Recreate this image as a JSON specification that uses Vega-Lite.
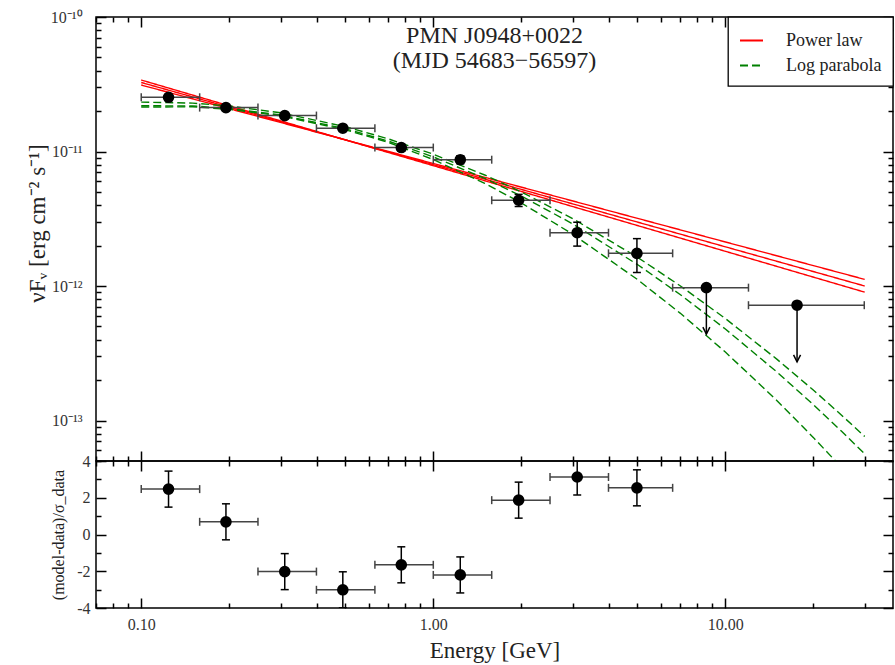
{
  "$schema": "https://vega.github.io/schema/vega-lite/v6.json",
  "background": "white",
  "padding": {"left": 25, "top": 8, "right": 2, "bottom": 0},
  "spacing": 0,
  "bounds": "flush",
  "config": {
    "view": {"stroke": "black", "strokeWidth": 1.5},
    "font": "Liberation Serif",
    "axis": {
      "domain": false, "tickColor": "black", "tickWidth": 1.5, "zindex": 2,
      "labelFont": "Liberation Serif", "labelFontSize": 16, "labelColor": "#333",
      "titleFont": "Liberation Serif", "titleFontWeight": "normal", "titleColor": "#222",
      "grid": false, "labelOverlap": false, "labelFlush": false
    },
    "legend": {
      "strokeColor": "black", "strokeWidth": 1.3, "fillColor": "white", "padding": 11, "cornerRadius": 0,
      "labelFont": "Liberation Serif", "labelFontSize": 18, "labelColor": "#222",
      "symbolSize": 529, "symbolStrokeWidth": 2, "symbolType": "stroke", "rowPadding": 3, "labelOffset": 22, "offset": 0
    }
  },
  "datasets": {
    "points": [
      {"E": 0.124, "Elo": 0.1, "Ehi": 0.1585, "F": 2.53e-11, "Flo": 2.42e-11, "Fhi": 2.64e-11},
      {"E": 0.195, "Elo": 0.1585, "Ehi": 0.251, "F": 2.12e-11, "Flo": 2.03e-11, "Fhi": 2.21e-11},
      {"E": 0.31, "Elo": 0.251, "Ehi": 0.398, "F": 1.85e-11, "Flo": 1.77e-11, "Fhi": 1.93e-11},
      {"E": 0.49, "Elo": 0.398, "Ehi": 0.631, "F": 1.49e-11, "Flo": 1.42e-11, "Fhi": 1.56e-11},
      {"E": 0.777, "Elo": 0.631, "Ehi": 1.0, "F": 1.07e-11, "Flo": 1.01e-11, "Fhi": 1.13e-11},
      {"E": 1.237, "Elo": 1.0, "Ehi": 1.585, "F": 8.69e-12, "Flo": 8.1e-12, "Fhi": 9.3e-12},
      {"E": 1.96, "Elo": 1.585, "Ehi": 2.51, "F": 4.34e-12, "Flo": 3.9e-12, "Fhi": 4.8e-12},
      {"E": 3.11, "Elo": 2.51, "Ehi": 3.98, "F": 2.49e-12, "Flo": 1.98e-12, "Fhi": 2.98e-12},
      {"E": 4.98, "Elo": 3.98, "Ehi": 6.6, "F": 1.75e-12, "Flo": 1.26e-12, "Fhi": 2.25e-12},
      {"E": 8.61, "Elo": 6.6, "Ehi": 12.0, "F": 9.72e-13, "Fend": 4.39e-13},
      {"E": 17.6, "Elo": 12.0, "Ehi": 29.9, "F": 7.2e-13, "Fend": 2.73e-13}
    ],
    "models": [
      {"model": "Power law", "curve": "pl1", "E": 0.1, "F": 3.26e-11},
      {"model": "Power law", "curve": "pl1", "E": 30, "F": 1.0e-12},
      {"model": "Power law", "curve": "pl2", "E": 0.1, "F": 3.12e-11},
      {"model": "Power law", "curve": "pl2", "E": 30, "F": 1.12e-12},
      {"model": "Power law", "curve": "pl3", "E": 0.1, "F": 3.40e-11},
      {"model": "Power law", "curve": "pl3", "E": 30, "F": 0.90e-12},
      {"model": "Log parabola", "curve": "lp1", "E": 0.1, "F": 2.19e-11},
      {"model": "Log parabola", "curve": "lp1", "E": 0.15, "F": 2.18e-11},
      {"model": "Log parabola", "curve": "lp1", "E": 0.2, "F": 2.09e-11},
      {"model": "Log parabola", "curve": "lp1", "E": 0.3, "F": 1.87e-11},
      {"model": "Log parabola", "curve": "lp1", "E": 0.5, "F": 1.476e-11},
      {"model": "Log parabola", "curve": "lp1", "E": 0.7, "F": 1.197e-11},
      {"model": "Log parabola", "curve": "lp1", "E": 1, "F": 9.12e-12},
      {"model": "Log parabola", "curve": "lp1", "E": 1.5, "F": 6.31e-12},
      {"model": "Log parabola", "curve": "lp1", "E": 2, "F": 4.67e-12},
      {"model": "Log parabola", "curve": "lp1", "E": 3, "F": 2.90e-12},
      {"model": "Log parabola", "curve": "lp1", "E": 5, "F": 1.445e-12},
      {"model": "Log parabola", "curve": "lp1", "E": 7, "F": 8.65e-13},
      {"model": "Log parabola", "curve": "lp1", "E": 10, "F": 4.79e-13},
      {"model": "Log parabola", "curve": "lp1", "E": 15, "F": 2.30e-13},
      {"model": "Log parabola", "curve": "lp1", "E": 20, "F": 1.314e-13},
      {"model": "Log parabola", "curve": "lp1", "E": 25, "F": 8.32e-14},
      {"model": "Log parabola", "curve": "lp1", "E": 30, "F": 5.65e-14},
      {"model": "Log parabola", "curve": "lp2", "E": 0.1, "F": 2.33e-11},
      {"model": "Log parabola", "curve": "lp2", "E": 0.15, "F": 2.29e-11},
      {"model": "Log parabola", "curve": "lp2", "E": 0.2, "F": 2.18e-11},
      {"model": "Log parabola", "curve": "lp2", "E": 0.3, "F": 1.94e-11},
      {"model": "Log parabola", "curve": "lp2", "E": 0.5, "F": 1.53e-11},
      {"model": "Log parabola", "curve": "lp2", "E": 0.7, "F": 1.244e-11},
      {"model": "Log parabola", "curve": "lp2", "E": 1, "F": 9.55e-12},
      {"model": "Log parabola", "curve": "lp2", "E": 1.5, "F": 6.69e-12},
      {"model": "Log parabola", "curve": "lp2", "E": 2, "F": 5.01e-12},
      {"model": "Log parabola", "curve": "lp2", "E": 3, "F": 3.17e-12},
      {"model": "Log parabola", "curve": "lp2", "E": 5, "F": 1.635e-12},
      {"model": "Log parabola", "curve": "lp2", "E": 7, "F": 1.005e-12},
      {"model": "Log parabola", "curve": "lp2", "E": 10, "F": 5.73e-13},
      {"model": "Log parabola", "curve": "lp2", "E": 15, "F": 2.86e-13},
      {"model": "Log parabola", "curve": "lp2", "E": 20, "F": 1.686e-13},
      {"model": "Log parabola", "curve": "lp2", "E": 25, "F": 1.095e-13},
      {"model": "Log parabola", "curve": "lp2", "E": 30, "F": 7.61e-14},
      {"model": "Log parabola", "curve": "lp3", "E": 0.1, "F": 2.14e-11},
      {"model": "Log parabola", "curve": "lp3", "E": 0.15, "F": 2.15e-11},
      {"model": "Log parabola", "curve": "lp3", "E": 0.2, "F": 2.06e-11},
      {"model": "Log parabola", "curve": "lp3", "E": 0.3, "F": 1.84e-11},
      {"model": "Log parabola", "curve": "lp3", "E": 0.5, "F": 1.45e-11},
      {"model": "Log parabola", "curve": "lp3", "E": 0.7, "F": 1.172e-11},
      {"model": "Log parabola", "curve": "lp3", "E": 1, "F": 8.71e-12},
      {"model": "Log parabola", "curve": "lp3", "E": 1.5, "F": 5.80e-12},
      {"model": "Log parabola", "curve": "lp3", "E": 2, "F": 4.15e-12},
      {"model": "Log parabola", "curve": "lp3", "E": 3, "F": 2.43e-12},
      {"model": "Log parabola", "curve": "lp3", "E": 5, "F": 1.118e-12},
      {"model": "Log parabola", "curve": "lp3", "E": 7, "F": 6.29e-13},
      {"model": "Log parabola", "curve": "lp3", "E": 10, "F": 3.23e-13},
      {"model": "Log parabola", "curve": "lp3", "E": 15, "F": 1.41e-13},
      {"model": "Log parabola", "curve": "lp3", "E": 20, "F": 7.49e-14},
      {"model": "Log parabola", "curve": "lp3", "E": 25, "F": 4.47e-14},
      {"model": "Log parabola", "curve": "lp3", "E": 30, "F": 2.89e-14}
    ],
    "resid": [
      {"E": 0.124, "Elo": 0.1, "Ehi": 0.1585, "R": 2.47, "Rlo": 1.49, "Rhi": 3.45},
      {"E": 0.195, "Elo": 0.1585, "Ehi": 0.251, "R": 0.69, "Rlo": -0.29, "Rhi": 1.67},
      {"E": 0.31, "Elo": 0.251, "Ehi": 0.398, "R": -2.02, "Rlo": -3.0, "Rhi": -1.04},
      {"E": 0.49, "Elo": 0.398, "Ehi": 0.631, "R": -3.01, "Rlo": -3.99, "Rhi": -2.03},
      {"E": 0.777, "Elo": 0.631, "Ehi": 1.0, "R": -1.65, "Rlo": -2.63, "Rhi": -0.67},
      {"E": 1.237, "Elo": 1.0, "Ehi": 1.585, "R": -2.2, "Rlo": -3.18, "Rhi": -1.22},
      {"E": 1.96, "Elo": 1.585, "Ehi": 2.51, "R": 1.87, "Rlo": 0.89, "Rhi": 2.85},
      {"E": 3.11, "Elo": 2.51, "Ehi": 3.98, "R": 3.13, "Rlo": 2.15, "Rhi": 4.11},
      {"E": 4.98, "Elo": 3.98, "Ehi": 6.6, "R": 2.54, "Rlo": 1.56, "Rhi": 3.52}
    ]
  },
  "vconcat": [
    {
      "width": 797,
      "height": 444,
      "title": {
        "text": ["PMN J0948+0022", "(MJD 54683−56597)"],
        "frame": "group", "anchor": "middle", "orient": "top",
        "offset": -64, "fontSize": 24, "font": "Liberation Serif", "fontWeight": "normal",
        "color": "#222", "lineHeight": 25
      },
      "resolve": {"axis": {"x": "independent", "y": "independent"}},
      "layer": [
        {
          "data": {"name": "models"},
          "mark": {"type": "line", "clip": true, "strokeWidth": 1.4},
          "encoding": {
            "x": {"field": "E", "type": "quantitative",
              "scale": {"type": "log", "domain": [0.07, 37.5], "nice": false},
              "axis": {"orient": "bottom", "offset": -10, "tickSize": 10, "labels": false, "title": null, "values": [0.1, 1, 10]}},
            "y": {"field": "F", "type": "quantitative",
              "scale": {"type": "log", "domain": [5e-14, 1e-10], "nice": false},
              "axis": {"orient": "left", "ticks": false, "title": "νFᵥ [erg cm⁻² s⁻¹]", "titleFontSize": 23, "titlePadding": 1, "titleY": 206,
                "labelPadding": 14, "values": [1e-13, 1e-12, 1e-11, 1e-10],
                "labelExpr": "round(log(datum.value)/LN10) == -10 ? '10⁻¹⁰' : round(log(datum.value)/LN10) == -11 ? '10⁻¹¹' : round(log(datum.value)/LN10) == -12 ? '10⁻¹²' : '10⁻¹³'"}},
            "color": {"field": "model", "type": "nominal",
              "scale": {"domain": ["Power law", "Log parabola"], "range": ["#ff0000", "#008000"]},
              "legend": {"title": null, "orient": "top-right", "offset": 0}},
            "strokeDash": {"field": "model", "type": "nominal",
              "scale": {"domain": ["Power law", "Log parabola"], "range": [[1, 0], [8, 4]]},
              "legend": {"title": null, "orient": "top-right", "offset": 0}},
            "detail": {"field": "curve"}
          }
        },
        {
          "data": {"name": "points"},
          "mark": {"type": "rule", "clip": true, "color": "#444", "strokeWidth": 1.5},
          "encoding": {
            "x": {"field": "Elo", "type": "quantitative",
              "axis": {"orient": "bottom", "offset": -5, "tickSize": 5, "labels": false, "title": null,
                "values": [0.07,0.08,0.09,0.2,0.3,0.4,0.5,0.6,0.7,0.8,0.9,2,3,4,5,6,7,8,9,20,30]}},
            "x2": {"field": "Ehi"},
            "y": {"field": "F", "type": "quantitative",
              "axis": {"orient": "left", "offset": -10, "tickSize": 10, "labels": false, "title": null, "values": [1e-13, 1e-12, 1e-11, 1e-10]}}
          }
        },
        {
          "data": {"name": "points"},
          "mark": {"type": "point", "clip": true, "shape": "M0,-1L0,1", "size": 64, "filled": false, "color": "#444", "strokeWidth": 1.5, "opacity": 1},
          "encoding": {
            "x": {"field": "Elo", "type": "quantitative",
              "axis": {"orient": "top", "offset": -10, "tickSize": 10, "labels": false, "title": null, "values": [0.1, 1, 10]}},
            "y": {"field": "F", "type": "quantitative",
              "axis": {"orient": "left", "offset": -5, "tickSize": 5, "labels": false, "title": null,
                "values": [5e-14,6e-14,7e-14,8e-14,9e-14,2e-13,3e-13,4e-13,5e-13,6e-13,7e-13,8e-13,9e-13,2e-12,3e-12,4e-12,5e-12,6e-12,7e-12,8e-12,9e-12,2e-11,3e-11,4e-11,5e-11,6e-11,7e-11,8e-11,9e-11]}}
          }
        },
        {
          "data": {"name": "points"},
          "mark": {"type": "point", "clip": true, "shape": "M0,-1L0,1", "size": 64, "filled": false, "color": "#444", "strokeWidth": 1.5, "opacity": 1},
          "encoding": {
            "x": {"field": "Ehi", "type": "quantitative",
              "axis": {"orient": "top", "offset": -5, "tickSize": 5, "labels": false, "title": null,
                "values": [0.07,0.08,0.09,0.2,0.3,0.4,0.5,0.6,0.7,0.8,0.9,2,3,4,5,6,7,8,9,20,30]}},
            "y": {"field": "F", "type": "quantitative",
              "axis": {"orient": "right", "offset": -10, "tickSize": 10, "labels": false, "title": null, "values": [1e-13, 1e-12, 1e-11, 1e-10]}}
          }
        },
        {
          "data": {"name": "points"},
          "transform": [{"filter": "isValid(datum.Flo)"}],
          "mark": {"type": "rule", "clip": true, "color": "black", "strokeWidth": 1.5},
          "encoding": {
            "x": {"field": "E", "type": "quantitative", "axis": null},
            "y": {"field": "Flo", "type": "quantitative",
              "axis": {"orient": "right", "offset": -5, "tickSize": 5, "labels": false, "title": null,
                "values": [5e-14,6e-14,7e-14,8e-14,9e-14,2e-13,3e-13,4e-13,5e-13,6e-13,7e-13,8e-13,9e-13,2e-12,3e-12,4e-12,5e-12,6e-12,7e-12,8e-12,9e-12,2e-11,3e-11,4e-11,5e-11,6e-11,7e-11,8e-11,9e-11]}},
            "y2": {"field": "Fhi"}
          }
        },
        {
          "data": {"name": "points"},
          "transform": [{"filter": "isValid(datum.Flo)"}],
          "mark": {"type": "point", "clip": true, "shape": "M-1,0L1,0", "size": 64, "filled": false, "color": "black", "strokeWidth": 1.5, "opacity": 1},
          "encoding": {
            "x": {"field": "E", "type": "quantitative", "axis": null},
            "y": {"field": "Flo", "type": "quantitative", "axis": null}
          }
        },
        {
          "data": {"name": "points"},
          "transform": [{"filter": "isValid(datum.Flo)"}],
          "mark": {"type": "point", "clip": true, "shape": "M-1,0L1,0", "size": 64, "filled": false, "color": "black", "strokeWidth": 1.5, "opacity": 1},
          "encoding": {
            "x": {"field": "E", "type": "quantitative", "axis": null},
            "y": {"field": "Fhi", "type": "quantitative", "axis": null}
          }
        },
        {
          "data": {"name": "points"},
          "transform": [{"filter": "isValid(datum.Fend)"}],
          "mark": {"type": "rule", "clip": true, "color": "black", "strokeWidth": 1.5},
          "encoding": {
            "x": {"field": "E", "type": "quantitative", "axis": null},
            "y": {"field": "F", "type": "quantitative", "axis": null},
            "y2": {"field": "Fend"}
          }
        },
        {
          "data": {"name": "points"},
          "transform": [{"filter": "isValid(datum.Fend)"}],
          "mark": {"type": "point", "clip": true, "shape": "M-0.5,-1L0,0L0.5,-1", "size": 196, "filled": false, "color": "black", "strokeWidth": 1.5, "opacity": 1},
          "encoding": {
            "x": {"field": "E", "type": "quantitative", "axis": null},
            "y": {"field": "Fend", "type": "quantitative", "axis": null}
          }
        },
        {
          "data": {"name": "points"},
          "mark": {"type": "point", "clip": true, "shape": "circle", "size": 135, "filled": true, "color": "black", "opacity": 1},
          "encoding": {
            "x": {"field": "E", "type": "quantitative", "axis": null},
            "y": {"field": "F", "type": "quantitative", "axis": null}
          }
        }
      ]
    },
    {
      "width": 797,
      "height": 147,
      "resolve": {"axis": {"x": "independent", "y": "independent"}},
      "layer": [
        {
          "mark": {"type": "rule", "color": "black", "strokeWidth": 1.3, "strokeDash": [8, 6]},
          "encoding": {
            "y": {"datum": 0, "type": "quantitative", "scale": {"domain": [-4, 4], "nice": false}, "axis": null}
          }
        },
        {
          "data": {"name": "resid"},
          "mark": {"type": "rule", "clip": true, "color": "#444", "strokeWidth": 1.5},
          "encoding": {
            "x": {"field": "Elo", "type": "quantitative",
              "scale": {"type": "log", "domain": [0.07, 37.5], "nice": false},
              "axis": {"orient": "bottom", "ticks": false, "title": "Energy [GeV]", "titleFontSize": 23, "titlePadding": 7,
                "labelPadding": 8, "values": [0.1, 1, 10], "format": ".2f"}},
            "x2": {"field": "Ehi"},
            "y": {"field": "R", "type": "quantitative",
              "scale": {"domain": [-4, 4], "nice": false},
              "axis": {"orient": "left", "ticks": false, "title": "(model-data)/σ_data", "titleFontSize": 16, "titlePadding": 10,
                "labelPadding": 6, "values": [-4, -2, 0, 2, 4],
                "labelExpr": "toString(datum.value)"}}
          }
        },
        {
          "data": {"name": "resid"},
          "mark": {"type": "point", "clip": true, "shape": "M0,-1L0,1", "size": 64, "filled": false, "color": "#444", "strokeWidth": 1.5, "opacity": 1},
          "encoding": {
            "x": {"field": "Elo", "type": "quantitative",
              "axis": {"orient": "bottom", "offset": -10, "tickSize": 10, "labels": false, "title": null, "values": [0.1, 1, 10]}},
            "y": {"field": "R", "type": "quantitative",
              "axis": {"orient": "left", "offset": -10, "tickSize": 10, "labels": false, "title": null, "values": [-4, -2, 0, 2, 4]}}
          }
        },
        {
          "data": {"name": "resid"},
          "mark": {"type": "point", "clip": true, "shape": "M0,-1L0,1", "size": 64, "filled": false, "color": "#444", "strokeWidth": 1.5, "opacity": 1},
          "encoding": {
            "x": {"field": "Ehi", "type": "quantitative",
              "axis": {"orient": "bottom", "offset": -5, "tickSize": 5, "labels": false, "title": null,
                "values": [0.07,0.08,0.09,0.2,0.3,0.4,0.5,0.6,0.7,0.8,0.9,2,3,4,5,6,7,8,9,20,30]}},
            "y": {"field": "R", "type": "quantitative",
              "axis": {"orient": "left", "offset": -5, "tickSize": 5, "labels": false, "title": null, "values": [-3, -1, 1, 3]}}
          }
        },
        {
          "data": {"name": "resid"},
          "mark": {"type": "rule", "clip": true, "color": "black", "strokeWidth": 1.5},
          "encoding": {
            "x": {"field": "E", "type": "quantitative",
              "axis": {"orient": "top", "offset": -10, "tickSize": 10, "labels": false, "title": null, "values": [0.1, 1, 10]}},
            "y": {"field": "Rlo", "type": "quantitative",
              "axis": {"orient": "right", "offset": -10, "tickSize": 10, "labels": false, "title": null, "values": [-4, -2, 0, 2, 4]}},
            "y2": {"field": "Rhi"}
          }
        },
        {
          "data": {"name": "resid"},
          "mark": {"type": "point", "clip": true, "shape": "M-1,0L1,0", "size": 64, "filled": false, "color": "black", "strokeWidth": 1.5, "opacity": 1},
          "encoding": {
            "x": {"field": "E", "type": "quantitative",
              "axis": {"orient": "top", "offset": -5, "tickSize": 5, "labels": false, "title": null,
                "values": [0.07,0.08,0.09,0.2,0.3,0.4,0.5,0.6,0.7,0.8,0.9,2,3,4,5,6,7,8,9,20,30]}},
            "y": {"field": "Rlo", "type": "quantitative",
              "axis": {"orient": "right", "offset": -5, "tickSize": 5, "labels": false, "title": null, "values": [-3, -1, 1, 3]}}
          }
        },
        {
          "data": {"name": "resid"},
          "mark": {"type": "point", "clip": true, "shape": "M-1,0L1,0", "size": 64, "filled": false, "color": "black", "strokeWidth": 1.5, "opacity": 1},
          "encoding": {
            "x": {"field": "E", "type": "quantitative", "axis": null},
            "y": {"field": "Rhi", "type": "quantitative", "axis": null}
          }
        },
        {
          "data": {"name": "resid"},
          "mark": {"type": "point", "clip": true, "shape": "circle", "size": 135, "filled": true, "color": "black", "opacity": 1},
          "encoding": {
            "x": {"field": "E", "type": "quantitative", "axis": null},
            "y": {"field": "R", "type": "quantitative", "axis": null}
          }
        }
      ]
    }
  ]
}
